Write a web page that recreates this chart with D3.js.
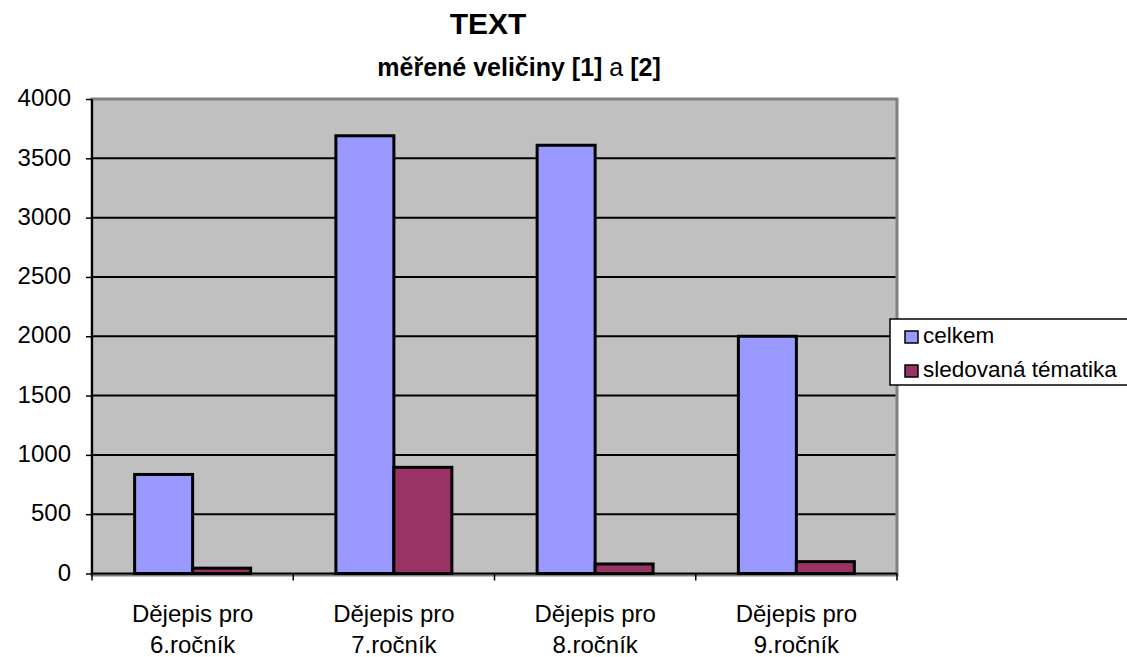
<!DOCTYPE html>
<html>
<head>
<meta charset="utf-8">
<script src="https://cdn.jsdelivr.net/npm/d3@7"></script>
<style>
  body { margin: 0; background: #fff; }
  text { font-family: "Liberation Sans", Arial, sans-serif; }
</style>
</head>
<body>
<div id="graph"><svg></svg></div>
<script>
// data
let categories = ["Dějepis pro 6.ročník", "Dějepis pro 7.ročník", "Dějepis pro 8.ročník", "Dějepis pro 9.ročník"];
let seriesNames = ["celkem", "sledovaná tématika"];
let celkem = [835, 3690, 3610, 2000];
let sledovana = [45, 895, 80, 100];
let yTicks = [0, 500, 1000, 1500, 2000, 2500, 3000, 3500, 4000];
let colors = ["#9999FF", "#993366"];

let width = 1127, height = 657;
// plot area
let plot = { left: 92, right: 897, top: 99, bottom: 573.5 };

let svg = d3.select("div#graph svg")
  .attr("width", width)
  .attr("height", height);

let xScale = d3.scaleBand()
  .domain(categories)
  .range([plot.left, plot.right])
  .padding(0);

let xInner = d3.scaleBand()
  .domain(seriesNames)
  .range([0, xScale.bandwidth()])
  .paddingInner(0)
  .paddingOuter(0.735);

let yScale = d3.scaleLinear()
  .domain([0, 4000])
  .range([plot.bottom, plot.top]);

// plot background + grey frame
svg.append("rect")
  .attr("x", plot.left)
  .attr("y", plot.top)
  .attr("width", plot.right - plot.left)
  .attr("height", plot.bottom - plot.top + 1.5)
  .style("fill", "#C0C0C0")
  .style("stroke", "#808080")
  .style("stroke-width", 3);

// gridlines
svg.append("g")
  .selectAll("line")
  .data(yTicks.filter((d) => d > 0 && d < 4000))
  .enter()
  .append("line")
  .attr("x1", plot.left)
  .attr("x2", plot.right - 1.5)
  .attr("y1", (d) => yScale(d))
  .attr("y2", (d) => yScale(d))
  .style("stroke", "black")
  .style("stroke-width", 2);

// bars
let rows = categories.map((c, i) => ({ cat: c, values: [celkem[i], sledovana[i]] }));

let groups = svg.append("g")
  .selectAll("g")
  .data(rows)
  .enter()
  .append("g")
  .attr("transform", (d) => "translate(" + xScale(d.cat) + ",0)");

groups.selectAll("rect")
  .data((d) => d.values.map((v, j) => ({ name: seriesNames[j], value: v, idx: j })))
  .enter()
  .append("rect")
  .attr("x", (d) => xInner(d.name))
  .attr("y", (d) => yScale(d.value))
  .attr("width", xInner.bandwidth())
  .attr("height", (d) => yScale(0) - yScale(d.value))
  .style("fill", (d) => colors[d.idx])
  .style("stroke", "black")
  .style("stroke-width", 3);

// y axis
let yAxis = svg.append("g")
  .attr("transform", "translate(" + plot.left + ",0)")
  .call(d3.axisLeft(yScale).tickValues(yTicks).tickSize(6).tickPadding(15).tickFormat(d3.format("d")));
yAxis.select(".domain").attr("stroke-width", 2).attr("d", "M0," + plot.top + "V" + (plot.bottom + 1));
yAxis.selectAll(".tick line").attr("stroke-width", 1.5);
yAxis.selectAll(".tick text")
  .style("font-size", "24px")
  .attr("dy", "0.28em")
  .style("fill", "black");

// x axis: line at zero + ticks at category boundaries
let boundaries = categories.map((c) => xScale(c)).concat([plot.right]);
svg.append("line")
  .attr("x1", plot.left)
  .attr("x2", plot.right)
  .attr("y1", yScale(0))
  .attr("y2", yScale(0))
  .style("stroke", "black")
  .style("stroke-width", 2);
svg.append("g")
  .selectAll("line")
  .data(boundaries)
  .enter()
  .append("line")
  .attr("x1", (d) => d)
  .attr("x2", (d) => d)
  .attr("y1", yScale(0))
  .attr("y2", yScale(0) + 7)
  .style("stroke", "black")
  .style("stroke-width", 1.5);

// category labels on two lines
let catLabels = svg.append("g")
  .selectAll("text")
  .data(categories)
  .enter()
  .append("text")
  .attr("text-anchor", "middle")
  .style("font-size", "24px")
  .style("fill", "black");
catLabels.append("tspan")
  .attr("x", (d) => xScale(d) + xScale.bandwidth() / 2)
  .attr("y", 622)
  .text((d) => d.split(" ").slice(0, 2).join(" "));
catLabels.append("tspan")
  .attr("x", (d) => xScale(d) + xScale.bandwidth() / 2)
  .attr("y", 653)
  .text((d) => d.split(" ").slice(2).join(" "));

// title
svg.append("text")
  .attr("x", 488)
  .attr("y", 34)
  .attr("text-anchor", "middle")
  .style("font-size", "30px")
  .style("font-weight", "bold")
  .text("TEXT");
let t2 = svg.append("text")
  .attr("x", 519)
  .attr("y", 76)
  .attr("text-anchor", "middle")
  .style("font-size", "25px")
  .style("font-weight", "bold");
t2.append("tspan").text("měřené veličiny [1] ");
t2.append("tspan").style("font-weight", "normal").text("a");
t2.append("tspan").text(" [2]");

// legend
let legend = svg.append("g").attr("transform", "translate(890,319)");
legend.append("rect")
  .attr("width", 260)
  .attr("height", 66)
  .style("fill", "white")
  .style("stroke", "black")
  .style("stroke-width", 1.5);
let items = legend.selectAll("g.item")
  .data(seriesNames)
  .enter()
  .append("g")
  .attr("class", "item")
  .attr("transform", (d, i) => "translate(15," + (12 + i * 34) + ")");
items.append("rect")
  .attr("width", 13)
  .attr("height", 12)
  .style("fill", (d, i) => colors[i])
  .style("stroke", "black")
  .style("stroke-width", 1.5);
items.append("text")
  .attr("x", 18)
  .attr("y", 12)
  .style("font-size", "22.5px")
  .style("fill", "black")
  .text((d) => d);
</script>
</body>
</html>
